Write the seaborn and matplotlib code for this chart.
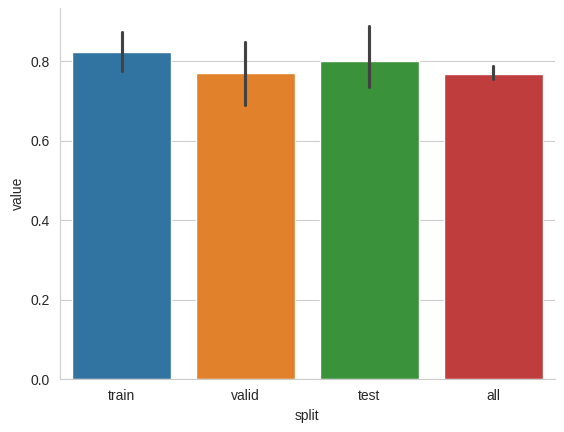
import pandas as pd
import matplotlib
matplotlib.use("Agg")
import matplotlib.pyplot as plt
import seaborn as sns

# per-split scores (mean = bar height, min/max = error bar ends)
splits = ["train", "valid", "test", "all"]
train_vals = [0.7765, 0.8175, 0.8735]
valid_vals = [0.691, 0.774, 0.848]
test_vals = [0.7365, 0.7745, 0.889]
all_vals = [0.756, 0.7585, 0.788]

# build a long dataframe for seaborn
rows = []
for split, vals in zip(splits, [train_vals, valid_vals, test_vals, all_vals]):
    for v in vals:
        rows.append({"split": split, "value": v})
df = pd.DataFrame(rows)

sns.set_style("whitegrid")
# arial-like font, set after the style
plt.rcParams["font.family"] = ["Liberation Sans", "DejaVu Sans"]

fig, ax = plt.subplots(1, 1, figsize=(5.64, 4.32), dpi=100)

sns.barplot(data=df, x="split", y="value", hue="split", palette="tab10",
            errorbar=lambda x: (x.min(), x.max()), ax=ax)

sns.despine(ax=ax)
ax.grid(False, axis="x")

plt.subplots_adjust(left=0.106, right=0.984, top=0.981, bottom=0.122)
plt.savefig("out.png", dpi=100)
plt.close()
